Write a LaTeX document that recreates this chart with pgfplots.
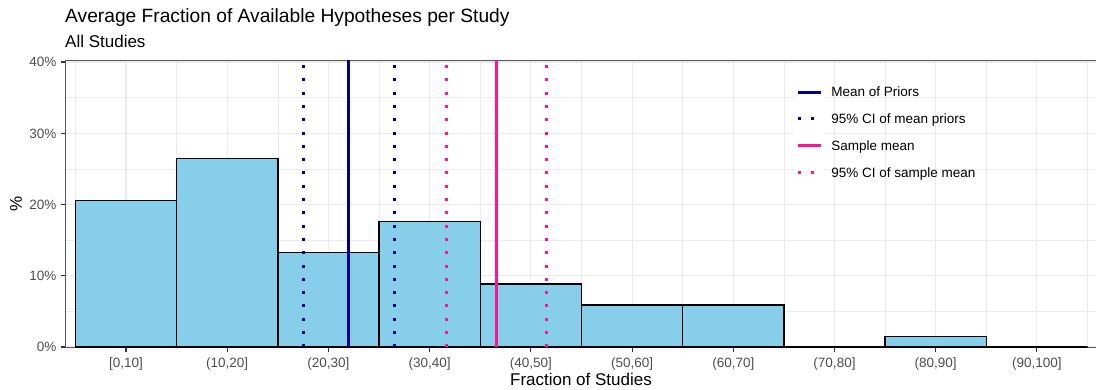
\documentclass[border=0pt]{standalone}
\usepackage{fontspec}
\setmainfont{Liberation Sans}
\usepackage{pgfplots}
\usepackage{pgfplotstable}
\pgfplotsset{compat=1.18}

\definecolor{barfill}{HTML}{87CEEB}
\definecolor{priorblue}{HTML}{00008B}
\definecolor{samplepink}{HTML}{FF1493}
\definecolor{gridgrey}{HTML}{EBEBEB}
\definecolor{framegrey}{HTML}{5A5A5A}
\definecolor{tickgrey}{HTML}{333333}
\definecolor{ticktext}{HTML}{4D4D4D}

% share of studies (%) in each bin of the available-hypotheses fraction
\pgfplotstableread{
idx pct
0 20.588
1 26.471
2 13.235
3 17.647
4 8.824
5 5.882
6 5.882
7 0
8 1.471
9 0
}\histdata

\pgfplotsset{
  keyline/.style={legend image code/.code={
    \fill[white] (-2pt,-11.95pt) rectangle (26pt,11.95pt);
    \draw[##1] (0pt,0pt) -- (23pt,0pt);}},
}

\begin{document}
\begin{tikzpicture}
\useasboundingbox (0pt,0pt) rectangle (1096pt,-389pt);
\begin{axis}[
  at={(66pt,-60pt)}, anchor=north west,
  scale only axis, width=1033pt, height=287.3pt,
  xmin=-0.593, xmax=9.614, ymin=-0.04, ymax=40.28,
  clip=false,
  xtick={0,...,9},
  xticklabels={{[0,10]},{(10,20]},{(20,30]},{(30,40]},{(40,50]},{(50,60]},{(60,70]},{(70,80]},{(80,90]},{(90,100]}},
  minor xtick={-0.5,0.5,...,9.5},
  ytick={0,10,20,30,40},
  yticklabels={0\%,10\%,20\%,30\%,40\%},
  minor ytick={5,15,25,35},
  grid=both,
  major grid style={gridgrey, line width=1.1pt},
  minor grid style={gridgrey, line width=0.55pt},
  axis line style={framegrey, line width=1pt},
  tick align=outside, tick pos=left,
  major tick length=5pt, minor tick length=0pt,
  every tick/.style={tickgrey, line width=1.1pt},
  tick label style={font=\fontsize{13.5}{16}\selectfont, text=ticktext},
  xticklabel style={inner sep=0pt, text height=9.3pt, text depth=0pt, anchor=north, yshift=-5.5pt},
  yticklabel style={inner sep=0pt, text height=9.7pt, text depth=0pt, anchor=east, xshift=-4.3pt},
  legend cell align=left,
  legend style={at={(0.7048,0.9348)}, anchor=north west, draw=none, fill=none,
    inner sep=0pt, outer sep=0pt, row sep=0pt, column sep=6.2pt,
    font=\fontsize{13.5}{16}\selectfont,
    nodes={inner sep=0pt, text height=9.7pt, text depth=0pt}},
]
% histogram bars
\addplot[ybar, bar width=1, fill=barfill, draw=black, line width=1.4pt, forget plot]
  table[x=idx, y=pct] {\histdata};

% mean of priors and its 95% CI
\addplot[priorblue, line width=2.9pt, keyline]
  coordinates {(2.197,-0.04) (2.197,40.28)};
\addlegendentry{Mean of Priors}
\addplot[priorblue, line width=3pt, dash pattern=on 3pt off 10.3pt, keyline]
  coordinates {(1.752,-0.04) (1.752,40.28)};
\addlegendentry{95\% CI of mean priors}
\addplot[priorblue, line width=3pt, dash pattern=on 3pt off 10.3pt, forget plot]
  coordinates {(2.648,-0.04) (2.648,40.28)};

% sample mean and its 95% CI
\addplot[samplepink, line width=2.9pt, keyline]
  coordinates {(3.663,-0.04) (3.663,40.28)};
\addlegendentry{Sample mean}
\addplot[samplepink, line width=3pt, dash pattern=on 3pt off 10.3pt, keyline]
  coordinates {(3.169,-0.04) (3.169,40.28)};
\addlegendentry{95\% CI of sample mean}
\addplot[samplepink, line width=3pt, dash pattern=on 3pt off 10.3pt, forget plot]
  coordinates {(4.157,-0.04) (4.157,40.28)};
\end{axis}

\node[anchor=base west, inner sep=0pt, font=\fontsize{19.2}{23}\selectfont]
  at (65pt,-22.7pt) {Average Fraction of Available Hypotheses per Study};
\node[anchor=base west, inner sep=0pt, font=\fontsize{17}{20}\selectfont]
  at (65pt,-47.3pt) {All Studies};
\node[anchor=base, inner sep=0pt, font=\fontsize{17}{20}\selectfont]
  at (581pt,-385pt) {Fraction of Studies};
\node[rotate=90, inner sep=0pt, font=\fontsize{17}{20}\selectfont]
  at (16pt,-203.5pt) {\%};
\end{tikzpicture}
\end{document}
